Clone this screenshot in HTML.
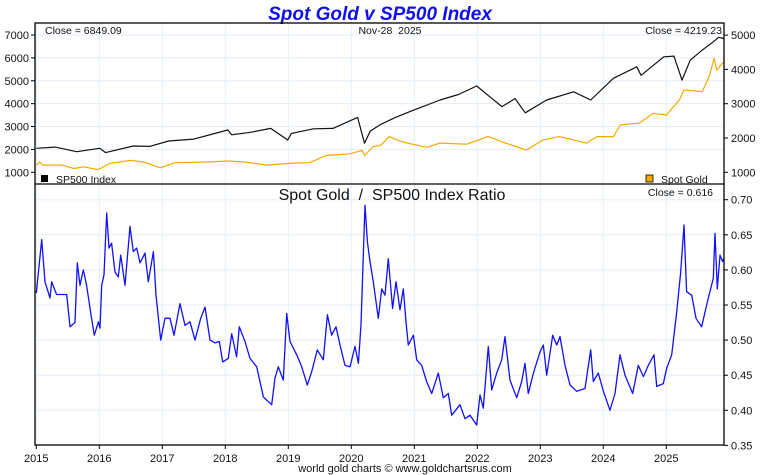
<!DOCTYPE html>
<html><head><meta charset="utf-8"><style>
body{margin:0;background:#fff;}
svg{display:block;font-family:"Liberation Sans",sans-serif;}
</style></head><body>
<svg id="chart" width="760" height="475" viewBox="0 0 760 475" xmlns="http://www.w3.org/2000/svg">
<rect x="0" y="0" width="760" height="475" fill="#fff"/>
<text x="380" y="20" text-anchor="middle" font-size="19" font-weight="bold" font-style="italic" fill="#1010ee">Spot Gold v SP500 Index</text>
<g id="grid"></g>
<g id="series"></g>
<g id="axes"></g>
</svg>
<script>
const spDates=[2015.0,2015.3,2015.64,2016.01,2016.1,2016.54,2016.8,2017.1,2017.5,2018.04,2018.1,2018.4,2018.72,2018.99,2019.05,2019.4,2019.71,2020.1,2020.21,2020.3,2020.47,2020.7,2020.99,2021.41,2021.7,2021.99,2022.2,2022.39,2022.6,2022.76,2023.1,2023.53,2023.8,2024.16,2024.53,2024.6,2024.96,2025.12,2025.25,2025.38,2025.57,2025.75,2025.83,2025.91];
const spValues=[2050,2100,1900,2050,1860,2150,2130,2370,2450,2850,2640,2750,2920,2410,2700,2900,2920,3400,2270,2800,3100,3400,3720,4160,4400,4770,4300,3870,4220,3600,4160,4520,4160,5110,5610,5240,6050,6080,5030,5900,6340,6710,6900,6849];
const goldDates=[2015.0,2015.05,2015.1,2015.4,2015.6,2015.75,2015.98,2016.17,2016.5,2016.7,2016.97,2017.2,2017.7,2018.04,2018.3,2018.65,2019.1,2019.34,2019.6,2019.98,2020.17,2020.21,2020.35,2020.47,2020.6,2020.8,2021.2,2021.41,2021.83,2022.17,2022.45,2022.78,2023.04,2023.3,2023.73,2023.9,2024.16,2024.27,2024.58,2024.79,2025.0,2025.21,2025.28,2025.57,2025.68,2025.76,2025.8,2025.91];
const goldValues=[1210,1300,1210,1210,1110,1160,1080,1260,1350,1300,1130,1280,1300,1330,1300,1210,1270,1280,1490,1540,1640,1490,1750,1790,2040,1890,1730,1850,1820,2040,1850,1650,1940,2040,1850,2040,2040,2380,2440,2720,2670,3110,3400,3350,3790,4320,3980,4219];
const ratioDates=[2015.000,2015.085,2015.138,2015.217,2015.244,2015.323,2015.482,2015.535,2015.614,2015.651,2015.693,2015.746,2015.799,2015.868,2015.921,2015.985,2016.011,2016.038,2016.075,2016.117,2016.154,2016.196,2016.249,2016.302,2016.339,2016.408,2016.487,2016.540,2016.593,2016.646,2016.725,2016.778,2016.858,2016.900,2016.974,2017.043,2017.122,2017.186,2017.281,2017.360,2017.439,2017.519,2017.609,2017.677,2017.757,2017.836,2017.905,2017.958,2018.048,2018.101,2018.180,2018.223,2018.313,2018.392,2018.498,2018.604,2018.736,2018.789,2018.842,2018.921,2018.974,2019.027,2019.133,2019.212,2019.302,2019.371,2019.461,2019.556,2019.620,2019.688,2019.757,2019.821,2019.900,2019.979,2020.059,2020.112,2020.154,2020.191,2020.218,2020.255,2020.297,2020.350,2020.429,2020.482,2020.535,2020.588,2020.656,2020.710,2020.773,2020.826,2020.868,2020.905,2020.985,2021.038,2021.117,2021.196,2021.276,2021.381,2021.461,2021.540,2021.593,2021.725,2021.805,2021.884,2021.990,2022.043,2022.096,2022.175,2022.228,2022.308,2022.387,2022.440,2022.519,2022.625,2022.705,2022.757,2022.810,2022.890,2022.995,2023.048,2023.101,2023.197,2023.260,2023.313,2023.392,2023.472,2023.578,2023.710,2023.800,2023.842,2023.921,2024.001,2024.107,2024.186,2024.265,2024.345,2024.466,2024.556,2024.636,2024.715,2024.805,2024.847,2024.953,2025.006,2025.085,2025.165,2025.228,2025.281,2025.323,2025.403,2025.471,2025.561,2025.667,2025.746,2025.773,2025.810,2025.852,2025.894,2025.910];
const ratioValues=[0.567,0.643,0.583,0.560,0.583,0.565,0.565,0.519,0.525,0.610,0.578,0.600,0.578,0.536,0.507,0.526,0.517,0.578,0.593,0.681,0.631,0.638,0.597,0.590,0.621,0.578,0.662,0.626,0.631,0.610,0.624,0.583,0.626,0.564,0.500,0.531,0.531,0.507,0.552,0.521,0.526,0.500,0.531,0.547,0.500,0.496,0.498,0.469,0.474,0.509,0.476,0.519,0.498,0.474,0.462,0.419,0.408,0.446,0.462,0.443,0.538,0.498,0.479,0.462,0.436,0.455,0.486,0.472,0.536,0.507,0.519,0.493,0.464,0.462,0.491,0.467,0.522,0.621,0.692,0.640,0.612,0.583,0.531,0.573,0.564,0.616,0.545,0.583,0.543,0.573,0.526,0.493,0.507,0.472,0.464,0.441,0.424,0.453,0.418,0.424,0.393,0.408,0.388,0.393,0.379,0.422,0.403,0.491,0.429,0.453,0.472,0.505,0.443,0.418,0.441,0.467,0.424,0.453,0.483,0.493,0.450,0.507,0.493,0.505,0.464,0.436,0.427,0.431,0.486,0.441,0.453,0.427,0.400,0.424,0.479,0.450,0.424,0.464,0.448,0.464,0.479,0.434,0.438,0.460,0.479,0.540,0.597,0.664,0.569,0.564,0.531,0.519,0.560,0.588,0.652,0.573,0.621,0.612,0.616];
const yearLabels=["2015","2016","2017","2018","2019","2020","2021","2022","2023","2024","2025"];
const spTicks=[1000,2000,3000,4000,5000,6000,7000];
const goldTicks=[1000,2000,3000,4000,5000];
const ratioTicks=[0.35,0.40,0.45,0.50,0.55,0.60,0.65,0.70];

const NS="http://www.w3.org/2000/svg";
const L=35,R=724,T1=23,B1=184,B2=445;
const xS=d=>36.3+(d-2015)*63.0;
const ySp=v=>172.3-(v-1000)*0.02288;
const yGold=v=>172.3-(v-1000)*0.0343;
const yRatio=v=>199.7+(0.70-v)*702;
function mk(tag,attrs,parent,text){const e=document.createElementNS(NS,tag);for(const k in attrs)e.setAttribute(k,attrs[k]);if(text!==undefined)e.textContent=text;parent.appendChild(e);return e;}
const grid=document.getElementById('grid'),series=document.getElementById('series'),axes=document.getElementById('axes');
const gc="#e3eef8";
yearLabels.forEach(y=>{const x=xS(+y);
 const g1=mk('line',{x1:x,x2:x,y1:T1,y2:B2,stroke:gc,'stroke-width':1},grid);
 
 
 const t=mk('text',{x:x,y:462,'text-anchor':'middle','font-size':11,fill:'#111'},axes,y);
 
 
 const tk=mk('line',{x1:x,x2:x,y1:B2,y2:B2+4,stroke:'#000'},axes);
 
 
});
spTicks.forEach(v=>{const y=ySp(v);
 if(v>1000){const g=mk('line',{x1:L,x2:R,y1:y,y2:y,stroke:gc},grid);
 
 }
 const t=mk('text',{x:29,y:y+4,'text-anchor':'end','font-size':11,fill:'#111'},axes,String(v));
 
 
 mk('line',{x1:L-4,x2:L,y1:y,y2:y,stroke:'#000'},axes);
});
goldTicks.forEach(v=>{const y=yGold(v);
 const t=mk('text',{x:731,y:y+4,'font-size':11,fill:'#111'},axes,String(v));
 
 
 mk('line',{x1:R,x2:R+4,y1:y,y2:y,stroke:'#000'},axes);
});
ratioTicks.forEach(v=>{const y=yRatio(v);
 if(v>0.35){const g=mk('line',{x1:L,x2:R,y1:y,y2:y,stroke:gc},grid);
 
 }
 const t=mk('text',{x:731,y:y+4,'font-size':11,fill:'#111'},axes,v.toFixed(2));
 
 
 mk('line',{x1:R,x2:R+4,y1:y,y2:y,stroke:'#000'},axes);
});
function line(ds,vs,ys,color,name,w){const pts=ds.map((d,i)=>xS(d).toFixed(1)+','+ys(vs[i]).toFixed(1)).join(' ');
 const p=mk('polyline',{points:pts,fill:'none',stroke:color,'stroke-width':w,'stroke-linejoin':'round'},series);
 
 }
line(goldDates,goldValues,yGold,'#f5a800','gold-line',1.2);
line(spDates,spValues,ySp,'#111','sp500-line',1.2);
line(ratioDates,ratioValues,yRatio,'#1010ff','ratio-line',1.3);
mk('rect',{x:L,y:T1,width:R-L,height:B2-T1,fill:'none',stroke:'#000','stroke-width':1.3},axes);
mk('line',{x1:L,x2:R,y1:B1,y2:B1,stroke:'#000','stroke-width':1.3},axes);
function txt(x,y,s,size,anchor,name,color){const t=mk('text',{x:x,y:y,'font-size':size,'text-anchor':anchor||'start',fill:color||'#111'},axes,s);
 
 }
txt(45,34,'Close = 6849.09',10.5,'start','sp-close-label');
txt(390,34,'Nov-28\u00a0\u00a02025',10.5,'middle','date-label');
txt(722,34,'Close = 4219.23',10.5,'end','gold-close-label');
txt(392,200,'Spot Gold\u00a0\u00a0/\u00a0\u00a0SP500 Index Ratio',16,'middle','ratio-panel-title');
txt(713,196,'Close = 0.616',10.5,'end','ratio-close-label');
txt(405,472,'world gold charts © www.goldchartsrus.com',11,'middle','footer-credit');
const s1=mk('rect',{x:41,y:175,width:7,height:7,fill:'#000'},axes);


txt(56,183,'SP500 Index',10.5,'start','sp500-legend-label');
const s2=mk('rect',{x:646,y:175,width:7,height:7,fill:'#f5a800',stroke:'#000','stroke-width':0.8},axes);


txt(661,183,'Spot Gold',10.5,'start','gold-legend-label');
</script>
</body></html>
